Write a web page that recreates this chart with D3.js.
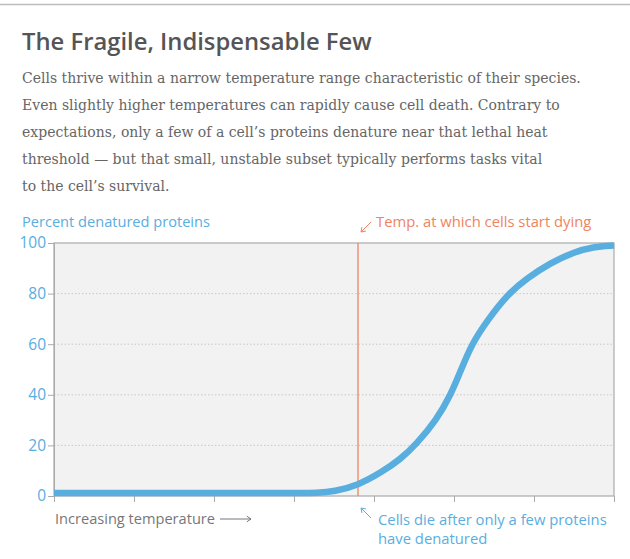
<!DOCTYPE html>
<html>
<head>
<meta charset="utf-8">
<script src="https://cdn.jsdelivr.net/npm/d3@7"></script>
<style>
  body { margin: 0; background: #fff; }
  svg { display: block; }
  .sans { font-family: "Open Sans", Lato, sans-serif; }
  .serif { font-family: "DejaVu Serif", serif; }
</style>
</head>
<body>
<div id="chart"></div>
<script>
// temperature (arbitrary units, one per tick) vs percent of proteins denatured
var tempSteps = [0, 1, 2, 3, 3.3, 3.5, 3.8, 4.1, 4.33, 4.53, 4.78, 4.96, 5.09, 5.22, 5.43, 5.68, 5.91, 6.2, 6.49, 6.74, 7];
var pctDenatured = [1.2, 1.2, 1.2, 1.2, 1.2, 1.8, 4.2, 9.5, 14.5, 20.5, 30, 40, 50, 60, 70, 80, 86, 92, 96.3, 98.5, 99];
var yTicks = [0, 20, 40, 60, 80, 100];
var xTicks = [0, 1, 2, 3, 4, 5, 6, 7];
var deathTemp = 3.8;

var bodyLines = [
  "Cells thrive within a narrow temperature range characteristic of their species.",
  "Even slightly higher temperatures can rapidly cause cell death. Contrary to",
  "expectations, only a few of a cell\u2019s proteins denature near that lethal heat",
  "threshold \u2014 but that small, unstable subset typically performs tasks vital",
  "to the cell\u2019s survival."
];

var W = 630, H = 559;
var margin = {top: 243, right: 16, bottom: 63, left: 54};
var blue = "#59aee0", orange = "#f08460", grey = "#aaa";

var svg = d3.select("#chart").append("svg")
  .attr("width", W)
  .attr("height", H);

// top rule
svg.append("line")
  .attr("x1", 0).attr("x2", W)
  .attr("y1", 4.5).attr("y2", 4.5)
  .attr("stroke", "#bdbdbd").attr("stroke-width", 1.5);

svg.append("text")
  .attr("class", "sans")
  .attr("x", 22).attr("y", 50)
  .attr("font-size", 23.8)
  .attr("font-weight", 600)
  .attr("fill", "#555")
  .text("The Fragile, Indispensable Few");

svg.append("g").selectAll("text")
  .data(bodyLines)
  .enter().append("text")
  .attr("class", "serif")
  .attr("x", 22)
  .attr("y", function(d, i) { return 83 + i * 27; })
  .attr("font-size", 14)
  .attr("fill", "#666")
  .text(function(d) { return d; });

var x = d3.scaleLinear().domain([0, 7]).range([margin.left, W - margin.right]);
var y = d3.scaleLinear().domain([0, 100]).range([H - margin.bottom, margin.top]);

// plot background
svg.append("rect")
  .attr("x", x(0)).attr("y", y(100))
  .attr("width", x(7) - x(0)).attr("height", y(0) - y(100))
  .attr("fill", "#f2f2f2");

// dotted gridlines
svg.append("g").selectAll("line")
  .data(yTicks.filter(function(d) { return d > 0 && d < 100; }))
  .enter().append("line")
  .attr("x1", x(0)).attr("x2", x(7))
  .attr("y1", function(d) { return y(d); })
  .attr("y2", function(d) { return y(d); })
  .attr("stroke", "#c8c8c8")
  .attr("stroke-dasharray", "1.5,2");

// frame
svg.append("rect")
  .attr("x", x(0)).attr("y", y(100))
  .attr("width", x(7) - x(0)).attr("height", y(0) - y(100))
  .attr("fill", "none")
  .attr("stroke", grey).attr("stroke-width", 1.2);

var yAxis = svg.append("g")
  .attr("transform", "translate(" + x(0) + ",0)")
  .call(d3.axisLeft(y).tickValues(yTicks).tickSize(6).tickPadding(2));
yAxis.select(".domain").attr("stroke", grey);
yAxis.selectAll(".tick line").attr("stroke", grey);
yAxis.selectAll(".tick text")
  .attr("class", "sans")
  .attr("font-size", 15.5)
  .attr("fill", blue);

var xAxis = svg.append("g")
  .attr("transform", "translate(0," + y(0) + ")")
  .call(d3.axisBottom(x).tickValues(xTicks).tickSize(6).tickFormat(""));
xAxis.select(".domain").remove();
xAxis.selectAll(".tick line").attr("stroke", grey);

// death threshold
svg.append("line")
  .attr("x1", x(deathTemp)).attr("x2", x(deathTemp))
  .attr("y1", y(100)).attr("y2", y(0))
  .attr("stroke", orange).attr("stroke-width", 1.3);

// denaturation curve
var line = d3.line()
  .x(function(d, i) { return x(tempSteps[i]); })
  .y(function(d) { return y(d); })
  .curve(d3.curveBasis);

svg.append("path")
  .datum(pctDenatured)
  .attr("d", line)
  .attr("fill", "none")
  .attr("stroke", blue)
  .attr("stroke-width", 6.5);

// labels and arrows
function arrow(x1, y1, x2, y2, color, head) {
  var a = Math.atan2(y2 - y1, x2 - x1), h = head || 5;
  var p = "M" + x1 + "," + y1 + "L" + x2 + "," + y2 +
    "M" + (x2 - h * Math.cos(a - 0.6)) + "," + (y2 - h * Math.sin(a - 0.6)) +
    "L" + x2 + "," + y2 +
    "L" + (x2 - h * Math.cos(a + 0.6)) + "," + (y2 - h * Math.sin(a + 0.6));
  svg.append("path").attr("d", p)
    .attr("fill", "none").attr("stroke", color).attr("stroke-width", 1);
}

svg.append("text")
  .attr("class", "sans")
  .attr("x", 22).attr("y", 227)
  .attr("font-size", 14.6)
  .attr("fill", blue)
  .text("Percent denatured proteins");

svg.append("text")
  .attr("class", "sans")
  .attr("x", 376).attr("y", 227)
  .attr("font-size", 14.8)
  .attr("fill", orange)
  .text("Temp. at which cells start dying");
arrow(371, 222, 361, 232, orange, 5);

svg.append("text")
  .attr("class", "sans")
  .attr("x", 55).attr("y", 524)
  .attr("font-size", 14.6)
  .attr("fill", "#777")
  .text("Increasing temperature");
arrow(220, 519, 251, 519, "#777", 5);

svg.append("g").selectAll("text")
  .data(["Cells die after only a few proteins", "have denatured"])
  .enter().append("text")
  .attr("class", "sans")
  .attr("x", 378)
  .attr("y", function(d, i) { return 525 + i * 19; })
  .attr("font-size", 14.8)
  .attr("fill", blue)
  .text(function(d) { return d; });
arrow(371, 518, 361, 508, blue, 5);
</script>
</body>
</html>
